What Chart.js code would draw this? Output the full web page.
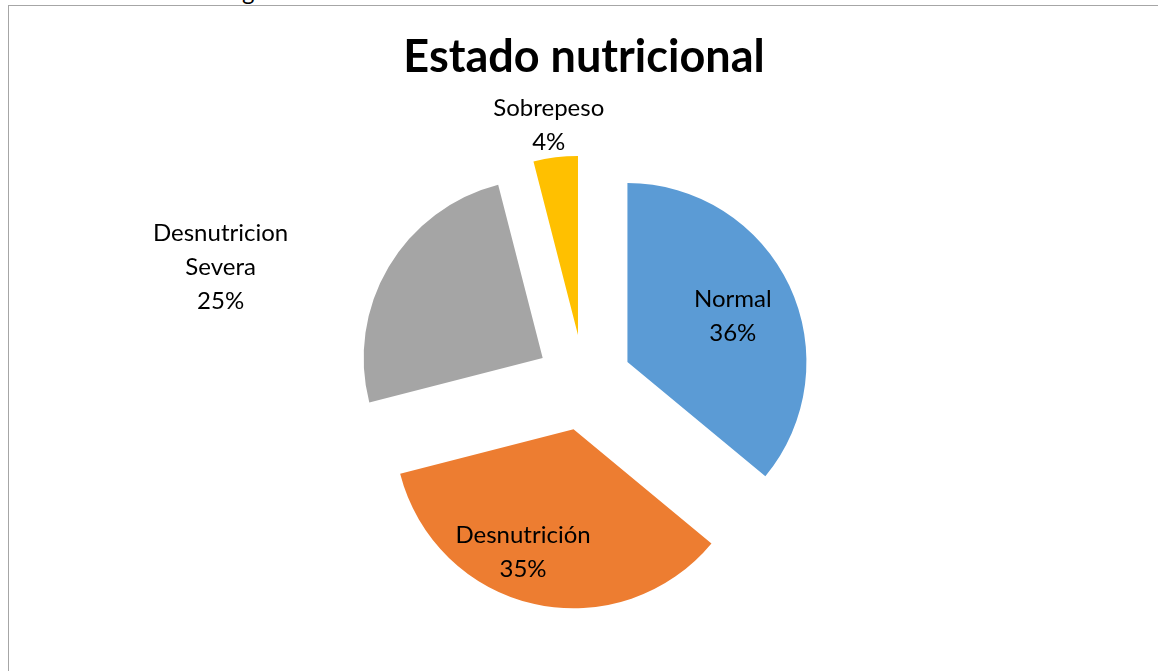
<!DOCTYPE html>
<html>
<head>
<meta charset="utf-8">
<script src="https://cdn.jsdelivr.net/npm/chart.js@4"></script>
<style>
    html, body { margin: 0; padding: 0; background: #fff; overflow: hidden; }
    #frame {
        position: absolute; left: 8px; top: 5px; width: 1300px; height: 800px;
        border: 1px solid #a6a6a6; box-sizing: border-box;
    }
    #cut {
        position: absolute; left: 242px; top: -24px; line-height: 30px;
        font: 24px Lato, sans-serif; color: #000;
    }
    #wrap { position: absolute; left: 0; top: 0; width: 1158px; height: 671px; }
</style>
</head>
<body>
<div id="cut">g</div>
<div id="frame"></div>
<div id="wrap"><canvas id="pie"></canvas></div>
<script>
// Estado nutricional - exploded pie

const categories = ['Normal', 'Desnutrición', 'Desnutricion Severa', 'Sobrepeso'];
const values = [36, 35, 25, 4];
const colors = ['#5B9BD5', '#ED7D31', '#A5A5A5', '#FFC000'];

// label text lines per slice (Excel wraps "Desnutricion Severa")
const labelLines = [['Normal'], ['Desnutrición'], ['Desnutricion', 'Severa'], ['Sobrepeso']];

// label anchor: distance (in radii from pie centre) and angle (deg, clockwise from top)
const labelDist = [0.91, 1.01, 2.13, 1.45];
const labelAngle = [66, 199.7, 287.6, 352.2];

const total = values.reduce((a, b) => a + b, 0);
const explode = 48; // px every slice is pulled out

// Chart.js' own offset also grows/narrows small arcs, so pull every
// slice out by the same distance here and let the arc draw itself
const explodeSlices = {
    id: 'explodeSlices',
    beforeDatasetDraw(chart, args) {
        const ctx = chart.ctx;
        args.meta.data.forEach(arc => {
            const mid = (arc.startAngle + arc.endAngle) / 2;
            ctx.save();
            ctx.translate(Math.cos(mid) * explode, Math.sin(mid) * explode);
            arc.draw(ctx);
            ctx.restore();
        });
        return false;
    }
};

const pieLabels = {
    id: 'pieLabels',
    afterDraw(chart) {
        const ctx = chart.ctx;
        const meta = chart.getDatasetMeta(0);
        const R = meta.controller.outerRadius;
        ctx.save();
        ctx.fillStyle = '#000';
        ctx.textAlign = 'center';
        ctx.textBaseline = 'middle';

        // title
        ctx.font = 'bold 45px Lato, sans-serif';
        ctx.fillText('Estado nutricional', chart.chartArea.left + chart.chartArea.width / 2, 57);

        ctx.font = '24px Lato, sans-serif';
        meta.data.forEach((arc, i) => {
            const a = labelAngle[i] * Math.PI / 180;
            const d = labelDist[i] * R;
            const x = arc.x + Math.sin(a) * d;
            const y = arc.y - Math.cos(a) * d;
            const lines = labelLines[i].concat([Math.round(values[i] / total * 100) + '%']);
            const lh = 34;
            const y0 = y - (lines.length - 1) * lh / 2;
            lines.forEach((t, j) => ctx.fillText(t, x, y0 + j * lh));
        });
        ctx.restore();
    }
};

new Chart(document.getElementById('pie'), {
    type: 'pie',
    data: {
        labels: categories,
        datasets: [{
            data: values,
            backgroundColor: colors,
            borderWidth: 0,
            offset: 0,
            hoverOffset: 0
        }]
    },
    options: {
        responsive: true,
        maintainAspectRatio: false,
        animation: false,
        radius: 179,
        layout: { padding: { left: 10, right: 0, top: 94, bottom: 0 } },
        plugins: {
            legend: { display: false },
            tooltip: { enabled: false },
            title: { display: false }
        },
        events: []
    },
    plugins: [explodeSlices, pieLabels]
});
</script>
</body>
</html>
